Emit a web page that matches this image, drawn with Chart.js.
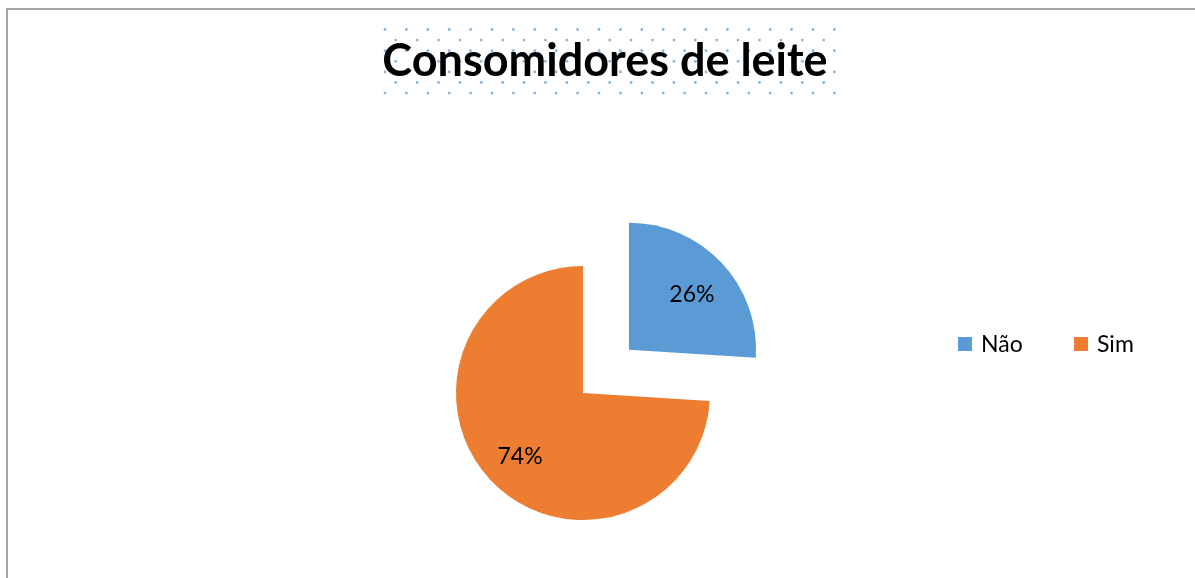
<!DOCTYPE html>
<html>
<head>
<meta charset="utf-8">
<script src="https://cdn.jsdelivr.net/npm/chart.js@4"></script>
<style>
  html, body { margin: 0; padding: 0; background: #ffffff; }
  #wrap { position: relative; width: 1195px; height: 578px; overflow: hidden; }
  #frame { position: absolute; left: 6px; top: 8px; width: 1300px; height: 700px;
           border-left: 2px solid #a6a6a6; border-top: 2px solid #a6a6a6; }
  canvas { position: absolute; left: 0; top: 0; }
</style>
</head>
<body>
<div id="wrap">
  <div id="frame"></div>
  <canvas id="c" width="1195" height="578"></canvas>
</div>
<script>
const titleText = 'Consomidores de leite';
const categories = ['Não', 'Sim'];
const values = [26, 74];
const percentLabels = ['26%', '74%'];
const colors = ['#5B9BD5', '#ED7D31'];

const FONT = 'Lato, "Open Sans", sans-serif';

const titlePlugin = {
  id: 'titleBox',
  beforeDraw(chart) {
    const ctx = chart.ctx;
    ctx.save();
    // dotted pattern behind title
    ctx.fillStyle = 'rgba(91,155,213,0.75)';
    const x0 = 385, x1 = 836, y0 = 29.5, y1 = 94, dx = 21.4, dy = 10.6;
    let row = 0;
    for (let y = y0; y <= y1; y += dy, row++) {
      const start = x0 + (row % 2 ? dx / 2 : 0);
      for (let x = start; x <= x1; x += dx) {
        ctx.beginPath();
        ctx.arc(x, y, 1.4, 0, Math.PI * 2);
        ctx.fill();
      }
    }
    ctx.fillStyle = '#000000';
    ctx.font = 'bold 45px ' + FONT;
    ctx.textAlign = 'center';
    ctx.textBaseline = 'alphabetic';
    ctx.fillText(titleText, 605, 76);
    ctx.restore();
  }
};

const labelPlugin = {
  id: 'sliceLabels',
  afterDatasetsDraw(chart) {
    const ctx = chart.ctx;
    const meta = chart.getDatasetMeta(0);
    const ds = chart.data.datasets[0];
    ctx.save();
    ctx.font = '23px ' + FONT;
    ctx.fillStyle = '#000000';
    ctx.textAlign = 'center';
    ctx.textBaseline = 'middle';
    meta.data.forEach((arc, i) => {
      const p = arc.getProps(['x', 'y', 'startAngle', 'endAngle', 'outerRadius'], true);
      const mid = (p.startAngle + p.endAngle) / 2;
      const off = (ds.offset[i] || 0) / 4;
      const r = p.outerRadius * 0.68 + off;
      ctx.fillText(percentLabels[i], p.x + Math.cos(mid) * r, p.y + Math.sin(mid) * r + 4);
    });
    ctx.restore();
  }
};

const legendPlugin = {
  id: 'sideLegend',
  afterDraw(chart) {
    const ctx = chart.ctx;
    const itemX = [958, 1074];
    const boxTop = 337, box = 14;
    ctx.save();
    ctx.font = '23px ' + FONT;
    ctx.textAlign = 'left';
    ctx.textBaseline = 'alphabetic';
    chart.data.labels.forEach((lab, i) => {
      ctx.fillStyle = chart.data.datasets[0].backgroundColor[i];
      ctx.fillRect(itemX[i], boxTop, box, box);
      ctx.fillStyle = '#000000';
      ctx.fillText(lab, itemX[i] + 23, 352);
    });
    ctx.restore();
  }
};

new Chart(document.getElementById('c'), {
  type: 'pie',
  data: {
    labels: categories,
    datasets: [{
      data: values,
      backgroundColor: colors,
      borderWidth: 0,
      offset: [252, 0],
      radius: 127
    }]
  },
  options: {
    responsive: false,
    animation: false,
    layout: { padding: { left: 0, right: 29, top: 208, bottom: 0 } },
    plugins: {
      legend: { display: false },
      title: { display: false },
      tooltip: { enabled: false }
    }
  },
  plugins: [titlePlugin, labelPlugin, legendPlugin]
});
</script>
</body>
</html>
